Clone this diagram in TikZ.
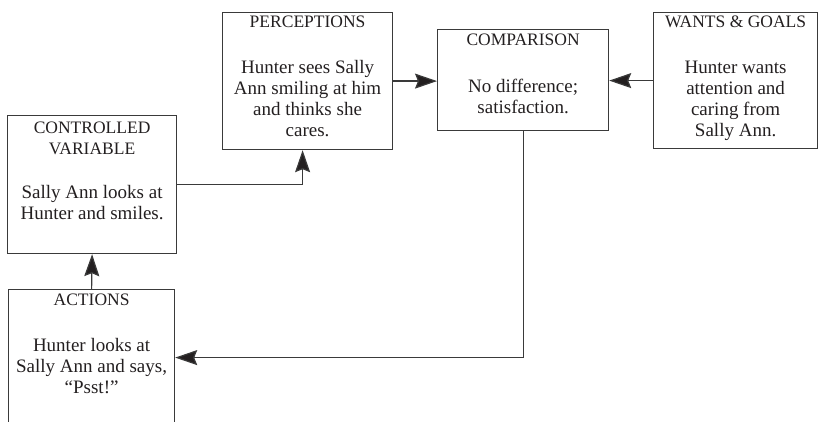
\documentclass[tikz,border=0pt]{standalone}
\usepackage{fontspec}
\setmainfont{Liberation Serif}
\usetikzlibrary{arrows.meta}
\definecolor{ink}{HTML}{231F20}
\definecolor{rule}{HTML}{3A3A3A}
\tikzset{
  box/.style={draw=rule, line width=1.2pt, anchor=north west, inner sep=0pt},
  boxtext/.style={anchor=north, align=center, inner sep=0pt, text=ink,
    font=\fontsize{19}{21}\selectfont},
  link/.style={draw=rule, line width=1.2pt,
    -{Stealth[length=22pt,width=15pt,inset=3pt,fill=ink]}},
}
\newcommand{\heading}[1]{{\fontsize{17.5}{22}\selectfont #1}}
\begin{document}
\begin{tikzpicture}[x=1pt,y=-1pt]
\clip (0,0) rectangle (818,422);
% boxes
\node[box, minimum width=169pt, minimum height=138pt] (cv) at (7,115) {};
\node[box, minimum width=166pt, minimum height=136pt] (act) at (8,289) {};
\node[box, minimum width=170pt, minimum height=137pt] (perc) at (222,12) {};
\node[box, minimum width=171pt, minimum height=101pt] (comp) at (437,29) {};
\node[box, minimum width=164pt, minimum height=136pt] (goal) at (653,12) {};
% texts
\node[boxtext] (cvtext) at ([yshift=-7pt]cv.north)
  {\heading{CONTROLLED}\\\heading{VARIABLE}\\[23pt]Sally Ann looks at\\Hunter and smiles.};
\node[boxtext] (acttext) at ([yshift=-5pt]act.north)
  {\heading{ACTIONS}\\[25pt]Hunter looks at\\Sally Ann and says,\\``Psst!''};
\node[boxtext] (perctext) at ([yshift=-4pt]perc.north)
  {\heading{PERCEPTIONS}\\[25pt]Hunter sees Sally\\Ann smiling at him\\and thinks she\\cares.};
\node[boxtext] (comptext) at ([yshift=-5pt]comp.north)
  {\heading{COMPARISON}\\[26pt]No difference;\\satisfaction.};
\node[boxtext] (goaltext) at ([yshift=-4pt]goal.north)
  {\heading{WANTS \& GOALS}\\[25pt]Hunter wants\\attention and\\caring from\\Sally Ann.};
% connectors
\draw[link] (act.north) -- (cv.south);
\draw[link] (cv.east) -| ([xshift=-5pt]perc.south);
\draw[link] (perc.east) -- (perc.east -| comp.west);
\draw[link] (goal.west) -- (goal.west -| comp.east);
\draw[link] (comp.south) |- (act.east);
\end{tikzpicture}
\end{document}
